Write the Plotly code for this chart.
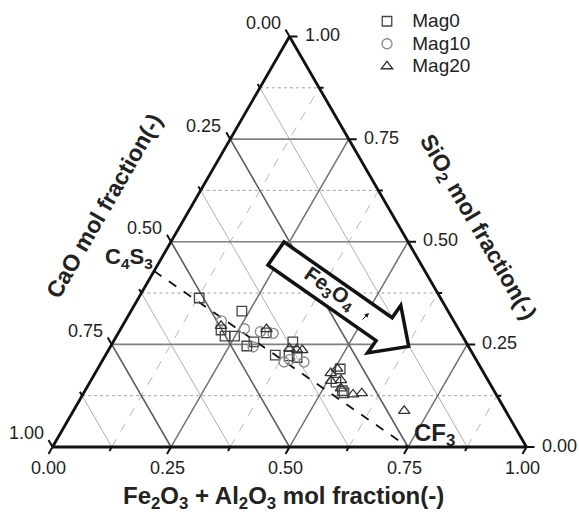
import math
import plotly.graph_objects as go

# ---------------- data (ternary mol fractions) ----------------
# Mag0 (squares)
mag0_sio2 = [0.363, 0.331, 0.285, 0.270, 0.270, 0.246, 0.256, 0.278, 0.256, 0.224, 0.222, 0.218, 0.190, 0.158, 0.137, 0.132]
mag0_cao  = [0.509, 0.435, 0.502, 0.501, 0.481, 0.467, 0.447, 0.410, 0.365, 0.418, 0.390, 0.375, 0.298, 0.323, 0.320, 0.319]
mag0_fe   = [0.128, 0.234, 0.213, 0.229, 0.249, 0.287, 0.297, 0.312, 0.379, 0.358, 0.388, 0.407, 0.512, 0.519, 0.543, 0.549]

# Mag10 (circles)
mag10_sio2 = [0.307, 0.288, 0.281, 0.277, 0.244, 0.207, 0.213, 0.207]
mag10_cao  = [0.490, 0.451, 0.421, 0.396, 0.455, 0.408, 0.393, 0.366]
mag10_fe   = [0.203, 0.261, 0.298, 0.327, 0.301, 0.385, 0.394, 0.427]

# Mag20 (triangles)
mag20_sio2 = [0.295, 0.287, 0.240, 0.238, 0.236, 0.191, 0.180, 0.161, 0.163, 0.143, 0.128, 0.131, 0.088]
mag20_cao  = [0.497, 0.405, 0.380, 0.366, 0.355, 0.304, 0.323, 0.332, 0.310, 0.320, 0.302, 0.282, 0.214]
mag20_fe   = [0.208, 0.308, 0.380, 0.396, 0.409, 0.505, 0.497, 0.507, 0.527, 0.537, 0.570, 0.587, 0.698]

# C4S3 - CF3 tie line
tie_sio2 = [3 / 7, 0.0]
tie_cao  = [4 / 7, 0.25]
tie_fe   = [0.0, 0.75]

series_names = ["Mag0", "Mag10", "Mag20"]
grid_major = [0.25, 0.5, 0.75]
grid_minor = [0.125, 0.375, 0.625, 0.875]
tick_major = [0.0, 0.25, 0.5, 0.75, 1.0]
tick_labels = ["0.00", "0.25", "0.50", "0.75", "1.00"]

FONT = "Liberation Sans, Arial, sans-serif"
FW, FH = 579, 515

fig = go.Figure()

# ---------------- grid lines ----------------
def add_line(a, b, c, color, width, dash):
    fig.add_trace(go.Scatterternary(a=a, b=b, c=c, mode="lines",
                                    line=dict(color=color, width=width, dash=dash),
                                    showlegend=False, hoverinfo="skip"))

for v in grid_minor:
    add_line([v, v], [1 - v, 0], [0, 1 - v], "#a0a0a0", 1, "dot")        # SiO2 const
    add_line([1 - v, 0], [v, v], [0, 1 - v], "#b0b0b0", 1, "solid")      # CaO const
    add_line([0, 1 - v], [1 - v, 0], [v, v], "#b8b8b8", 1, "dash")       # Fe const
for v in grid_major:
    add_line([v, v], [1 - v, 0], [0, 1 - v], "#808080", 1.6, "solid")
    add_line([1 - v, 0], [v, v], [0, 1 - v], "#5c5c5c", 1.6, "solid")
    add_line([0, 1 - v], [1 - v, 0], [v, v], "#707070", 1.5, "solid")

# tie line
fig.add_trace(go.Scatterternary(a=tie_sio2, b=tie_cao, c=tie_fe, mode="lines",
                                line=dict(color="#111111", width=1.8, dash="dash"),
                                showlegend=False, hoverinfo="skip"))

# ---------------- data ----------------
def legend_name(s):
    return '<span style="font-size:19px">\u00a0' + s + '</span>'


fig.add_trace(go.Scatterternary(a=mag0_sio2, b=mag0_cao, c=mag0_fe, mode="markers",
                                name=legend_name(series_names[0]),
                                marker=dict(symbol="square-open", size=9.5, color="#444444",
                                            line=dict(width=1.3))))
fig.add_trace(go.Scatterternary(a=mag10_sio2, b=mag10_cao, c=mag10_fe, mode="markers",
                                name=legend_name(series_names[1]),
                                marker=dict(symbol="circle-open", size=10, color="#8a8a8a",
                                            line=dict(width=1.3))))
fig.add_trace(go.Scatterternary(a=mag20_sio2, b=mag20_cao, c=mag20_fe, mode="markers",
                                name=legend_name(series_names[2]),
                                marker=dict(symbol="triangle-up-open", size=10, color="#333333",
                                            line=dict(width=1.3))))

axis_common = dict(
    ticks="", showticklabels=False,
    showline=True, linecolor="#111111", linewidth=2.8,
    showgrid=False, title=dict(text=""), min=0,
)

# triangle box in pixels: left, top, width, height
L, T, W, H = 52.5, 36.5, 474, 410.5


def px(x):
    return x / FW


def py(y):
    return (FH - y) / FH


fig.update_layout(
    width=FW, height=FH,
    margin=dict(l=0, r=0, t=0, b=0),
    paper_bgcolor="white",
    ternary=dict(
        sum=1,
        domain=dict(x=[px(L), px(L + W)], y=[py(T + H), py(T)]),
        bgcolor="white",
        aaxis=axis_common,
        baxis=axis_common,
        caxis=axis_common,
    ),
    showlegend=True,
    legend=dict(x=px(367), y=py(5), xanchor="left", yanchor="top",
                bgcolor="rgba(0,0,0,0)", borderwidth=0,
                font=dict(family=FONT, size=15, color="#222222"),
                tracegroupgap=0),
)

# ---------------- ticks and tick labels (drawn along the triangle edges) ----------------
BL = (L, T + H)
BR = (L + W, T + H)
TP = (L + W / 2, T)


def lerp(p, q, t):
    return (p[0] + (q[0] - p[0]) * t, p[1] + (q[1] - p[1]) * t)


edges = [
    # (start, end, tick direction, label offset, label anchor)
    (TP, BL, (-0.5, -0.866), (-26.5, -13.5), "center"),   # CaO (left)
    (BL, BR, (-0.5, 0.866), (-4.0, 21.0), "center"),      # Fe2O3+Al2O3 (bottom)
    (BR, TP, (1.0, 0.0), (13.0, -1.5), "left"),           # SiO2 (right)
]
tick_path = ""
for (p0, p1, d, off, anchor) in edges:
    for k in range(9):
        v = k / 8
        ln = 8 if k % 2 == 0 else 4.5
        p = lerp(p0, p1, v)
        q = (p[0] + d[0] * ln, p[1] + d[1] * ln)
        tick_path += f"M{px(p[0]):.5f},{py(p[1]):.5f} L{px(q[0]):.5f},{py(q[1]):.5f} "
    for v, txt in zip(tick_major, tick_labels):
        p = lerp(p0, p1, v)
        fig.add_annotation(text=txt, x=px(p[0] + off[0]), y=py(p[1] + off[1]),
                           xref="paper", yref="paper", showarrow=False,
                           xanchor=anchor, yanchor="middle",
                           font=dict(family=FONT, size=18, color="#222222"))
fig.add_shape(type="path", path=tick_path, xref="paper", yref="paper",
              line=dict(color="#111111", width=2), layer="above")

# ---------------- big arrow (decoration) ----------------
ang = math.radians(35)
ux, uy = math.cos(ang), math.sin(ang)
nx, ny = math.sin(ang), -math.cos(ang)
tx, ty = 276, 253.5
pts = [(0, 14), (132, 14), (132, 29), (162, 0), (132, -29), (132, -14), (0, -14)]
path = ""
for i, (s, t) in enumerate(pts):
    X = tx + s * ux + t * nx
    Y = ty + s * uy + t * ny
    path += ("M" if i == 0 else "L") + f"{px(X):.5f},{py(Y):.5f} "
path += "Z"
fig.add_shape(type="path", path=path, xref="paper", yref="paper",
              line=dict(color="#111111", width=3.5), fillcolor="white", layer="above")

annots = [
    dict(text="<b>CaO mol fraction(-)</b>", x=px(104), y=py(206), textangle=-60, size=23),
    dict(text="<b>SiO<sub>2</sub> mol fraction(-)</b>", x=px(477), y=py(228), textangle=60, size=23),
    dict(text="<b>Fe<sub>2</sub>O<sub>3</sub> + Al<sub>2</sub>O<sub>3</sub> mol fraction(-)</b>",
         x=px(283), y=py(497), textangle=0, size=24),
    dict(text="<b>C<sub>4</sub>S<sub>3</sub></b>", x=px(129), y=py(258), textangle=0, size=22),
    dict(text="<b>CF<sub>3</sub></b>", x=px(434), y=py(434), textangle=0, size=24),
    dict(text="<b>Fe<sub>3</sub>O<sub>4</sub></b>", x=px(330), y=py(289), textangle=35, size=21),
]
for a in annots:
    fig.add_annotation(text=a["text"], x=a["x"], y=a["y"], xref="paper", yref="paper",
                       showarrow=False, textangle=a["textangle"], xanchor="center", yanchor="middle",
                       font=dict(family=FONT, size=a["size"], color="#222222"))

# small arrow inside the big arrow
fig.add_annotation(x=px(369), y=py(313), ax=-8, ay=8, xref="paper", yref="paper",
                   text="", showarrow=True,
                   arrowhead=2, arrowsize=0.9, arrowwidth=1, arrowcolor="#111111")

fig.write_html("out.html",
               config={"displayModeBar": False},
               post_script="document.body.style.margin='0';document.body.style.overflow='hidden';")
